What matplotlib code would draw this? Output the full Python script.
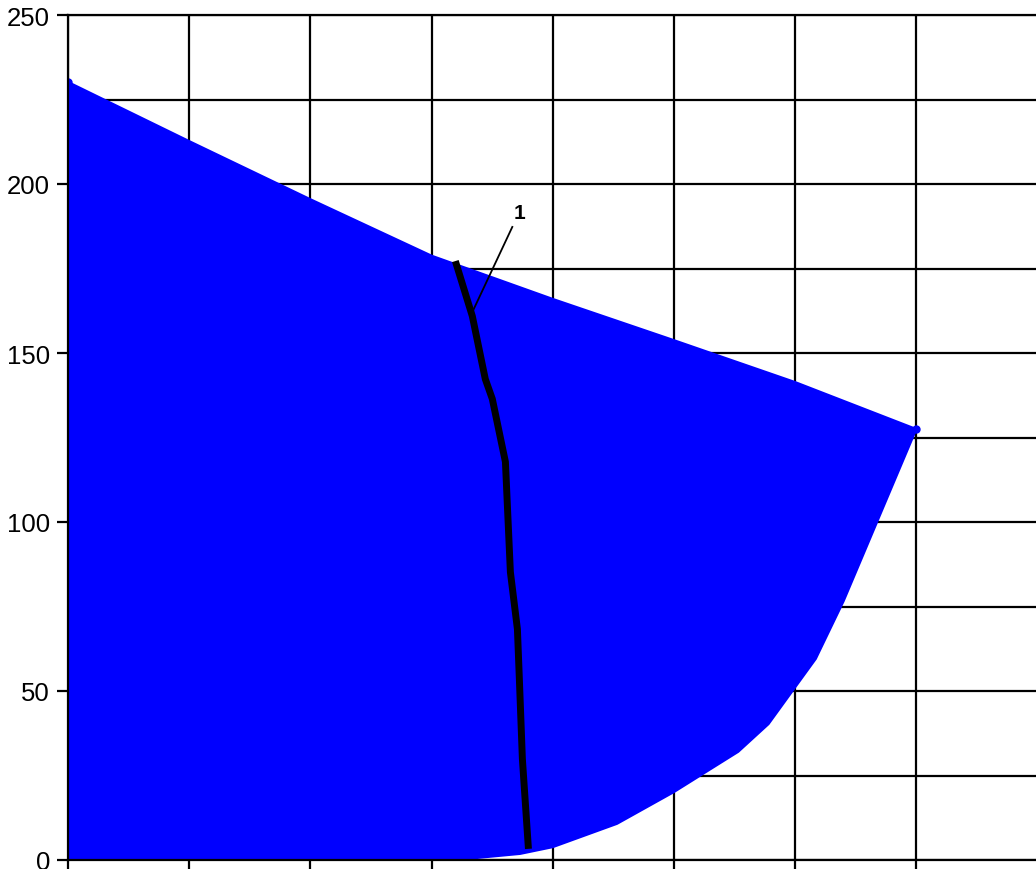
import numpy as np
import matplotlib
matplotlib.use("Agg")
import matplotlib.pyplot as plt

# top edge of the blue region
top_x = [0, 1, 2, 3, 4, 5, 6, 7]
top_y = [230.2, 212.7, 195.5, 178.8, 166.0, 153.8, 141.4, 127.5]

# right / lower edge, going from the top right corner back to the x axis
low_x = [7.0, 6.40, 6.17, 5.78, 5.53, 5.0, 4.53, 4.0, 3.73, 3.2]
low_y = [127.5, 76.6, 59.5, 40.2, 32.0, 20.1, 10.7, 3.8, 1.8, 0.0]

# black curve "1"
line_x = [3.196, 3.336, 3.443, 3.501, 3.609, 3.650, 3.708, 3.724, 3.749, 3.799]
line_y = [177.2, 160.9, 142.3, 136.4, 117.8, 85.2, 68.3, 53.6, 29.9, 3.3]

label_text = "1"
label_pos = (3.724, 191.7)
leader_start = (3.666, 187.3)
leader_end = (3.336, 162.1)

plt.rcParams['font.family'] = ['Liberation Sans', 'DejaVu Sans']

fig = plt.figure(figsize=(10.36, 8.7), dpi=100)
ax = fig.add_axes([68/1036, 9/870, (1037.6-68)/1036, 845/870])

# blue polygon
poly_x = top_x + low_x[1:] + [0]
poly_y = top_y + low_y[1:] + [0]
ax.fill(poly_x, poly_y, color="#0000ff", edgecolor="#0000ff", lw=1.5, zorder=2)
ax.plot([top_x[0], top_x[-1]], [top_y[0], top_y[-1]], "o", color="#0000ff", ms=5, zorder=3)

# black curve
ax.plot(line_x, line_y, color="black", lw=5, zorder=4, solid_capstyle="butt")

# label and leader
ax.plot([leader_start[0], leader_end[0]], [leader_start[1], leader_end[1]], color="black", lw=1.3, zorder=5)
ax.text(label_pos[0], label_pos[1], label_text, fontsize=15, fontweight="bold", ha="center", va="center", zorder=5)

ax.set_xlim(0, 8)
ax.set_ylim(0, 250)
ax.set_xticks(np.arange(0, 9, 1))
ax.set_xticklabels([])
ax.set_yticks(np.arange(0, 251, 50))
ax.set_yticks(np.arange(0, 251, 25), minor=True)
ax.tick_params(axis="y", which="minor", length=0)
ax.tick_params(axis="both", which="major", direction="out", length=8, width=1.6, labelsize=18.5, pad=5, colors="black")

ax.set_axisbelow(True)
ax.grid(True, which="both", color="black", lw=1.6)
for sp in ax.spines.values():
    sp.set_linewidth(1.6)
    sp.set_color("black")
    sp.set_zorder(6)

fig.savefig("out.png", dpi=100)
